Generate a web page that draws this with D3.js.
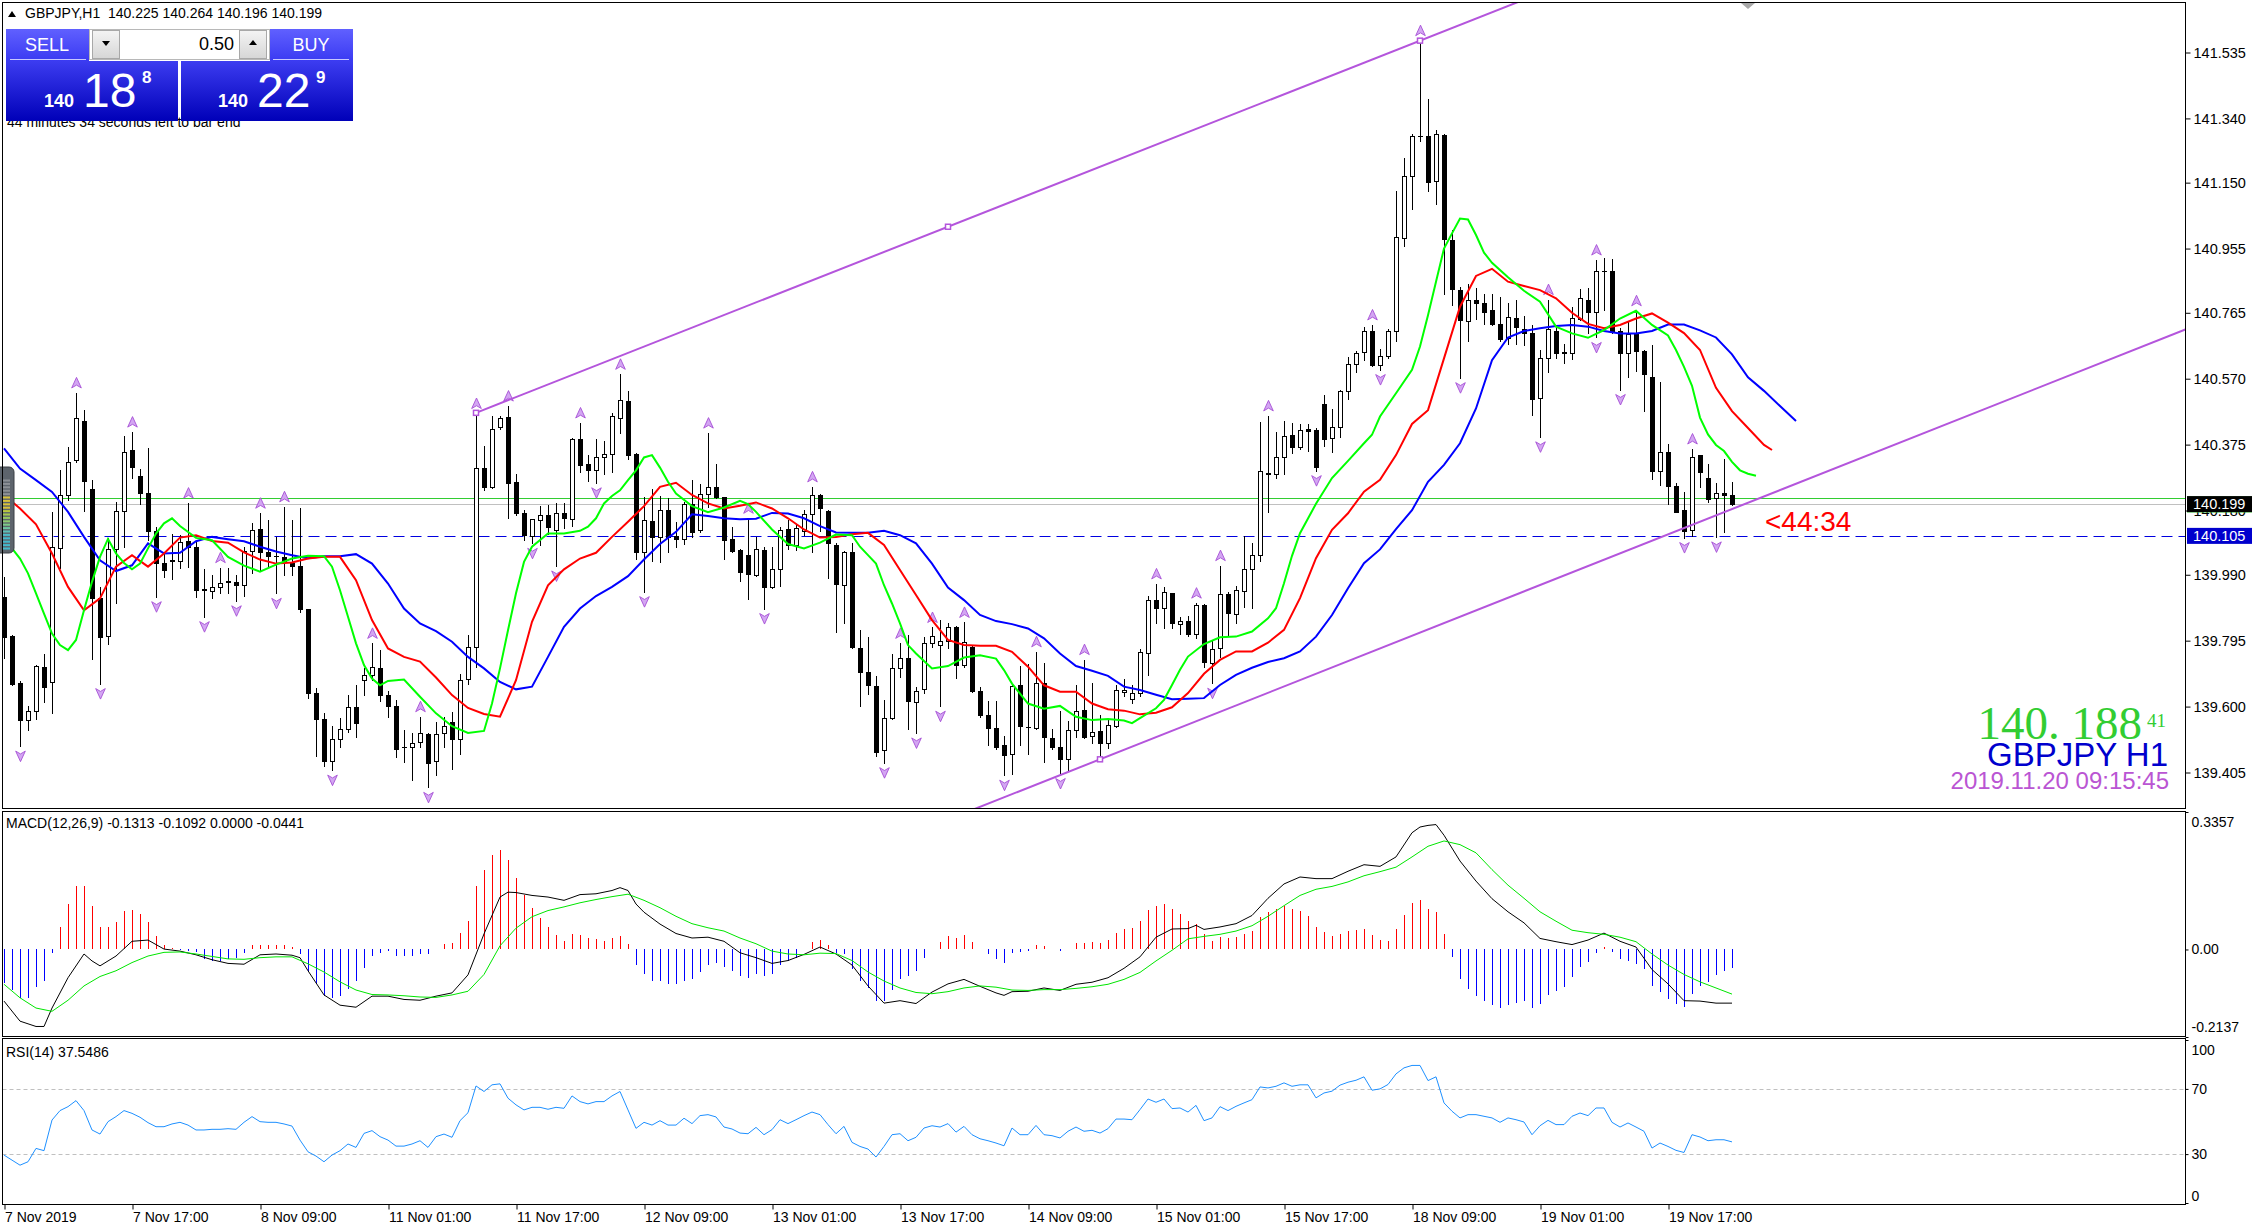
<!DOCTYPE html>
<html>
<head>
<meta charset="utf-8">
<script src="https://cdnjs.cloudflare.com/ajax/libs/d3/7.8.5/d3.min.js"></script>
<style>
body { margin: 0; background: #fff; }
text { font-family: "Liberation Sans", Arial, sans-serif; }
</style>
</head>
<body>
<div id="chart"></div>
<script>
// ---- data ----
const timeLabels = ["7 Nov 2019","7 Nov 17:00","8 Nov 09:00","11 Nov 01:00","11 Nov 17:00","12 Nov 09:00","13 Nov 01:00",
  "13 Nov 17:00","14 Nov 09:00","15 Nov 01:00","15 Nov 17:00","18 Nov 09:00","19 Nov 01:00","19 Nov 17:00"];
const timeTickBars = [0,16,32,48,64,80,96,112,128,144,160,176,192,208];
const priceTicks = [141.535,141.340,141.150,140.955,140.765,140.570,140.375,140.180,139.990,139.795,139.600,139.405];

const opens = [
139.925,139.808,139.670,139.560,139.587,139.716,139.674,140.068,140.225,140.328,
140.444,140.245,139.922,139.810,140.066,140.180,140.359,140.282,140.233,140.119,
140.024,140.031,140.032,140.089,140.072,139.947,139.943,139.955,139.969,139.970,
139.961,140.059,140.125,140.056,140.046,140.042,140.025,140.015,139.889,139.641,
139.564,139.439,139.504,139.535,139.600,139.680,139.692,139.713,139.633,139.601,
139.479,139.479,139.494,139.520,139.438,139.522,139.553,139.504,139.682,139.775,
140.305,140.250,140.426,140.458,140.263,140.173,140.106,140.152,140.166,140.122,
140.172,140.154,140.393,140.319,140.299,140.337,140.346,140.455,140.504,140.346,
140.056,140.148,140.102,140.183,140.104,140.097,140.200,140.121,140.230,140.251,
140.219,140.097,140.063,140.047,139.990,140.063,139.954,140.006,140.125,140.077,
140.120,140.169,140.225,140.180,140.078,139.961,140.056,139.772,139.701,139.662,
139.471,139.567,139.715,139.745,139.614,139.651,139.787,139.782,139.794,139.836,
139.723,139.777,139.646,139.575,139.538,139.485,139.461,139.665,139.541,139.538,
139.670,139.506,139.479,139.446,139.532,139.590,139.513,139.528,139.492,139.543,
139.642,139.622,139.640,139.758,139.916,139.891,139.935,139.845,139.854,139.814,
139.901,139.730,139.773,139.932,139.873,139.943,140.006,140.047,140.291,140.287,
140.338,140.403,140.369,140.420,140.418,140.494,140.394,140.428,140.533,140.613,
140.648,140.711,140.612,140.638,140.711,140.985,141.169,141.289,141.288,141.156,
141.291,140.980,140.832,140.742,140.804,140.793,140.773,140.733,140.689,140.751,
140.716,140.706,140.512,140.630,140.712,140.648,140.647,140.748,140.804,140.768,
140.890,140.889,140.711,140.645,140.701,140.652,140.574,140.296,140.353,140.253,
140.181,140.121,140.343,140.277,140.218,140.231,140.225];

const highs = [
139.984,139.811,139.676,139.601,139.723,139.755,140.177,140.300,140.367,140.528,
140.477,140.270,139.954,140.100,140.204,140.399,140.412,140.302,140.366,140.132,
140.053,140.110,140.109,140.202,140.092,140.007,139.988,140.011,140.010,139.988,
140.071,140.143,140.172,140.151,140.102,140.191,140.152,140.186,139.890,139.654,
139.580,139.544,139.567,139.633,139.663,139.713,139.787,139.767,139.647,139.619,
139.530,139.522,139.570,139.521,139.555,139.570,139.585,139.695,139.813,140.467,
140.371,140.459,140.460,140.489,140.287,140.183,140.155,140.194,140.196,140.203,
140.201,140.396,140.439,140.344,140.391,140.385,140.469,140.583,140.534,140.349,
140.221,140.243,140.223,140.216,140.147,140.206,140.270,140.257,140.409,140.319,
140.221,140.132,140.066,140.157,140.102,140.073,140.073,140.132,140.152,140.137,
140.181,140.250,140.228,140.183,140.083,140.061,140.085,139.826,139.807,139.690,
139.619,139.755,139.787,139.811,139.659,139.807,139.834,139.856,139.846,139.838,
139.849,139.782,139.659,139.617,139.617,139.514,139.665,139.720,139.725,139.762,
139.728,139.535,139.587,139.557,139.665,139.739,139.669,139.575,139.563,139.664,
139.681,139.664,139.770,139.927,139.963,139.955,139.937,139.866,139.868,139.906,
139.904,139.797,140.017,139.940,139.958,140.105,140.083,140.442,140.460,140.413,
140.446,140.438,140.436,140.436,140.423,140.521,140.480,140.537,140.633,140.653,
140.724,140.729,140.659,140.716,141.126,141.224,141.293,141.570,141.397,141.305,
141.293,141.010,140.842,140.850,140.837,140.820,140.822,140.812,140.793,140.804,
140.755,140.729,140.655,140.804,140.729,140.674,140.781,140.834,140.837,140.921,
140.928,140.923,140.719,140.738,140.771,140.655,140.669,140.561,140.377,140.260,
140.235,140.362,140.344,140.318,140.262,140.331,140.264];

const lows = [
139.745,139.663,139.483,139.532,139.564,139.614,139.580,140.011,140.211,140.325,
140.179,139.742,139.668,139.785,139.905,140.071,140.275,140.198,140.092,139.925,
139.984,139.977,140.011,140.014,139.925,139.866,139.922,139.937,139.935,139.913,
139.927,139.996,140.002,140.014,139.935,139.989,139.989,139.880,139.624,139.455,
139.424,139.412,139.479,139.525,139.511,139.633,139.678,139.616,139.570,139.451,
139.437,139.384,139.481,139.361,139.399,139.481,139.414,139.461,139.668,139.716,
140.242,140.248,140.420,140.159,140.166,140.092,140.083,140.078,140.110,140.016,
140.127,140.135,140.295,140.267,140.262,140.287,140.295,140.410,140.331,140.038,
139.940,140.031,140.028,140.058,140.071,140.080,140.102,140.117,140.191,140.216,
140.038,140.056,139.972,139.917,139.986,139.890,139.952,139.956,140.065,140.063,
140.109,140.056,140.119,139.981,139.821,139.846,139.774,139.602,139.637,139.454,
139.434,139.563,139.688,139.535,139.522,139.639,139.775,139.601,139.772,139.686,
139.718,139.644,139.570,139.486,139.474,139.397,139.402,139.486,139.461,139.535,
139.437,139.476,139.402,139.412,139.511,139.506,139.492,139.444,139.477,139.541,
139.630,139.610,139.630,139.694,139.847,139.832,139.832,139.815,139.809,139.802,
139.718,139.669,139.748,139.812,139.847,139.896,139.891,140.032,140.175,140.275,
140.288,140.349,140.361,140.357,140.298,140.372,140.352,140.397,140.511,140.591,
140.625,140.608,140.597,140.632,140.682,140.962,141.072,141.274,141.126,141.087,
140.822,140.788,140.573,140.682,140.748,140.731,140.728,140.682,140.674,140.674,
140.669,140.464,140.398,140.590,140.632,140.615,140.627,140.743,140.704,140.692,
140.773,140.704,140.538,140.576,140.592,140.475,140.272,140.256,140.200,140.175,
140.100,140.106,140.250,140.206,140.102,140.115,140.196];

const closes = [
139.806,139.668,139.560,139.587,139.720,139.659,140.071,140.225,140.324,140.455,
140.268,139.922,139.806,140.066,140.180,140.352,140.309,140.232,140.120,140.025,
140.004,140.035,140.086,140.073,139.946,139.945,139.955,139.967,139.971,139.960,
140.059,140.121,140.056,140.046,140.044,140.028,140.017,139.889,139.641,139.564,
139.440,139.504,139.535,139.600,139.552,139.692,139.718,139.633,139.601,139.476,
139.481,139.493,139.523,139.432,139.520,139.543,139.505,139.679,139.775,140.307,
140.250,140.420,140.455,140.262,140.173,140.108,140.154,140.166,140.130,140.172,
140.157,140.393,140.314,140.300,140.337,140.348,140.459,140.508,140.344,140.056,
140.151,140.102,140.183,140.102,140.097,140.200,140.117,140.229,140.251,140.219,
140.094,140.061,139.999,139.991,140.066,139.954,140.008,140.121,140.079,140.127,
140.171,140.226,140.188,140.083,139.964,140.056,139.775,139.703,139.663,139.466,
139.567,139.715,139.745,139.616,139.647,139.787,139.810,139.795,139.834,139.723,
139.792,139.646,139.576,139.538,139.481,139.458,139.661,139.543,139.539,139.671,
139.511,139.479,139.444,139.530,139.587,139.511,139.526,139.492,139.546,139.649,
139.649,139.640,139.761,139.916,139.891,139.938,139.847,139.854,139.814,139.901,
139.733,139.770,139.932,139.876,139.945,140.006,140.048,140.296,140.289,140.338,
140.401,140.369,140.418,140.415,140.310,140.391,140.428,140.535,140.613,140.647,
140.711,140.612,140.637,140.711,140.988,141.169,141.288,141.287,141.153,141.293,
140.982,140.834,140.745,140.804,140.793,140.768,140.733,140.686,140.753,140.724,
140.704,140.510,140.630,140.717,140.645,140.646,140.751,140.810,140.766,140.889,
140.888,140.712,140.645,140.701,140.652,140.584,140.296,140.353,140.253,140.177,
140.119,140.339,140.293,140.215,140.231,140.226,140.199];

// Alligator lines (blue jaw, red teeth, green lips), sampled at bar positions incl. forward shift
const jawBars = [0,2,4,6,8,10,12,14,16,18,20,22,24,26,28,30,32,34,36,38,40,42,44,46,48,50,52,54,56,58,60,62,64,66,68,70,
  72,74,76,78,80,82,84,86,88,90,92,94,96,98,100,102,104,106,108,110,112,114,116,118,120,122,124,126,128,130,132,134,136,
  138,140,142,144,146,148,150,152,154,156,158,160,162,164,166,168,170,172,174,176,178,180,182,184,186,188,190,192,194,196,
  198,200,202,204,206,208,210,212,214,216,218,220,222,224];
const jawVals = [140.364,140.304,140.270,140.235,140.176,140.102,140.033,140.001,140.018,140.083,140.053,140.055,140.089,
  140.102,140.095,140.089,140.073,140.059,140.048,140.039,140.045,140.045,140.051,140.023,139.964,139.890,139.846,139.823,
  139.792,139.747,139.713,139.673,139.651,139.659,139.747,139.836,139.890,139.927,139.954,139.986,140.035,140.081,140.117,
  140.169,140.164,140.157,140.154,140.156,140.173,140.171,140.157,140.134,140.115,140.114,140.114,140.120,140.107,140.083,
  140.023,139.952,139.915,139.871,139.853,139.844,139.831,139.802,139.757,139.720,139.706,139.691,139.659,139.649,139.635,
  139.622,139.623,139.625,139.664,139.694,139.715,139.732,139.743,139.763,139.807,139.871,139.950,140.024,140.065,140.125,
  140.181,140.265,140.315,140.379,140.482,140.625,140.692,140.711,140.719,140.726,140.729,140.724,140.711,140.704,140.704,
  140.711,140.730,140.730,140.713,140.692,140.642,140.574,140.534,140.489,140.445];

const teethBars = [0,2,4,6,8,10,12,14,16,18,20,22,24,26,28,30,32,34,36,38,40,42,44,46,48,50,52,54,56,58,60,62,64,66,68,70,
  72,74,76,78,80,82,84,86,88,90,92,94,96,98,100,102,104,106,108,110,112,114,116,118,120,122,124,126,128,130,132,134,136,
  138,140,142,144,146,148,150,152,154,156,158,160,162,164,166,168,170,172,174,176,178,180,182,184,186,188,190,192,194,196,
  198,200,202,204,206,208,210,212,214,216,218,220,221];
const teethVals = [140.226,140.186,140.139,140.053,139.954,139.885,139.920,140.014,140.048,140.014,140.053,140.100,140.107,
  140.090,140.085,140.056,140.035,140.023,140.026,140.038,140.043,140.043,139.974,139.856,139.772,139.747,139.733,139.686,
  139.634,139.596,139.578,139.570,139.678,139.851,139.959,140.006,140.038,140.055,140.102,140.147,140.193,140.250,140.262,
  140.226,140.201,140.186,140.194,140.204,140.186,140.157,140.124,140.100,140.102,140.110,140.114,140.078,140.004,139.930,
  139.856,139.797,139.782,139.780,139.780,139.762,139.718,139.663,139.644,139.644,139.609,139.592,139.588,139.577,139.582,
  139.598,139.640,139.697,139.738,139.763,139.763,139.789,139.827,139.921,140.039,140.123,140.172,140.236,140.271,140.344,
  140.436,140.477,140.630,140.783,140.874,140.895,140.857,140.844,140.832,140.808,140.765,140.732,140.719,140.729,140.748,
  140.763,140.736,140.705,140.655,140.543,140.474,140.424,140.374,140.359];

const lipsBars = [0,1,2,3,4,5,6,7,8,9,10,11,12,13,14,15,16,17,18,19,20,21,22,24,26,28,30,32,34,36,38,40,41,42,43,44,45,46,47,
  48,50,52,54,56,58,60,61,62,63,64,65,66,68,70,72,73,74,75,76,77,78,79,80,81,82,83,84,86,88,90,92,93,94,96,98,100,102,104,
  106,107,108,109,110,111,112,113,114,116,118,120,122,124,125,126,128,130,132,134,136,138,140,141,142,144,145,146,147,148,
  150,152,154,156,158,159,160,161,162,164,166,168,170,171,172,174,176,177,178,179,180,181,182,183,184,185,186,188,190,192,
  194,196,198,200,202,204,206,208,209,210,211,212,213,214,215,216,217,218,219];
const lipsVals = [140.100,140.068,140.038,139.994,139.935,139.875,139.816,139.782,139.767,139.797,139.885,139.969,140.043,
  140.096,140.053,140.025,140.006,140.023,140.068,140.112,140.142,140.157,140.134,140.099,140.092,140.043,140.017,139.999,
  140.020,140.038,140.046,140.045,140.014,139.944,139.866,139.787,139.723,139.683,139.663,139.676,139.680,139.629,139.580,
  139.542,139.522,139.528,139.609,139.713,139.826,139.935,140.028,140.073,140.112,140.112,140.120,140.132,140.157,140.201,
  140.223,140.240,140.270,140.299,140.337,140.344,140.307,140.265,140.230,140.193,140.175,140.189,140.209,140.199,140.176,
  140.124,140.081,140.068,140.085,140.109,140.107,140.073,140.048,140.023,139.959,139.905,139.846,139.782,139.757,139.713,
  139.720,139.745,139.752,139.742,139.708,139.668,139.609,139.594,139.602,139.570,139.560,139.563,139.559,139.551,139.566,
  139.595,139.620,139.664,139.709,139.748,139.785,139.805,139.807,139.822,139.861,139.891,139.965,140.046,140.113,140.200,
  140.276,140.327,140.379,140.404,140.458,140.527,140.596,140.665,140.758,140.857,140.955,141.000,141.044,141.041,140.995,
  140.943,140.913,140.870,140.830,140.798,140.724,140.704,140.691,140.714,140.748,140.771,140.729,140.698,140.655,140.605,
  140.549,140.455,140.405,140.374,140.356,140.324,140.299,140.289,140.283];

const fractalUp = [9,16,23,27,32,35,46,52,59,63,72,77,88,93,101,112,116,120,129,135,144,149,152,158,171,177,193,199,204,211];
const fractalDown = [2,12,19,25,29,34,41,53,66,69,74,80,95,110,114,117,125,132,151,164,172,182,192,199,202,210,214];

// trend lines: two anchor bars and prices each
const upperLineBars = [59,177];
const upperLinePrices = [140.469,141.570];
const lowerLineBars = [137,172];
const lowerLinePrices = [139.444,139.772];

// price lines
const askPrice = 140.218, bidPrice = 140.199, markPrice = 140.105;

// MACD histogram per bar
const macdHist = [
-0.081,-0.100,-0.118,-0.118,-0.092,-0.077,-0.009,0.056,0.110,0.156,
0.156,0.105,0.054,0.054,0.066,0.093,0.097,0.087,0.066,0.034,
0.011,0.004,-0.002,-0.003,-0.007,-0.024,-0.029,-0.029,-0.024,-0.022,
-0.009,0.010,0.011,0.011,0.011,0.010,0.007,-0.011,-0.052,-0.084,
-0.114,-0.118,-0.114,-0.097,-0.077,-0.044,-0.017,-0.009,-0.003,-0.016,
-0.017,-0.016,-0.010,-0.011,0.002,0.013,0.017,0.040,0.070,0.154,
0.193,0.230,0.244,0.218,0.175,0.132,0.102,0.077,0.054,0.036,
0.021,0.038,0.036,0.028,0.025,0.020,0.028,0.034,0.013,-0.038,
-0.059,-0.077,-0.077,-0.085,-0.085,-0.077,-0.072,-0.054,-0.038,-0.033,
-0.042,-0.053,-0.065,-0.069,-0.061,-0.065,-0.061,-0.038,-0.028,-0.020,
0.002,0.018,0.023,0.011,-0.008,-0.012,-0.047,-0.077,-0.095,-0.126,
-0.126,-0.099,-0.073,-0.065,-0.053,-0.020,0.002,0.018,0.033,0.028,
0.035,0.018,0.002,-0.011,-0.023,-0.033,-0.008,-0.006,-0.004,0.012,
0.008,0.002,-0.004,0.002,0.015,0.015,0.018,0.015,0.023,0.040,
0.050,0.053,0.069,0.096,0.106,0.111,0.099,0.087,0.069,0.063,
0.037,0.020,0.030,0.028,0.030,0.038,0.045,0.079,0.092,0.100,
0.107,0.098,0.094,0.081,0.055,0.042,0.033,0.037,0.045,0.047,
0.051,0.035,0.023,0.020,0.050,0.084,0.113,0.120,0.098,0.091,
0.037,-0.018,-0.072,-0.096,-0.114,-0.126,-0.136,-0.142,-0.136,-0.131,
-0.126,-0.142,-0.133,-0.112,-0.102,-0.091,-0.067,-0.042,-0.030,-0.008,
0.006,-0.007,-0.024,-0.028,-0.035,-0.047,-0.090,-0.103,-0.120,-0.133,
-0.140,-0.108,-0.088,-0.079,-0.063,-0.053,-0.044];

const macdMainBars = [0,2,4,5,6,8,10,11,12,14,16,18,20,22,24,26,28,30,32,34,36,37,38,40,42,44,46,48,50,52,54,56,58,60,62,63,
  64,66,68,70,72,74,76,77,78,79,80,82,84,86,88,90,92,94,96,98,100,102,104,106,108,110,112,114,116,118,120,122,124,125,126,
  128,130,132,134,136,138,140,142,144,146,148,149,150,152,154,156,158,160,162,164,166,168,170,172,174,176,177,178,179,180,
  182,184,186,188,190,192,194,196,198,200,202,204,206,208,210,212,214,216];
const macdMainVals = [-0.126,-0.175,-0.188,-0.188,-0.143,-0.069,-0.011,-0.028,-0.040,-0.016,0.020,0.023,0.001,-0.004,-0.013,
  -0.025,-0.034,-0.036,-0.013,-0.011,-0.014,-0.020,-0.052,-0.111,-0.136,-0.141,-0.114,-0.114,-0.122,-0.124,-0.114,-0.106,
  -0.062,0.038,0.128,0.140,0.139,0.132,0.128,0.120,0.134,0.136,0.144,0.151,0.144,0.111,0.091,0.062,0.039,0.028,0.030,0.020,
  -0.008,-0.020,-0.034,-0.027,-0.012,0.006,-0.011,-0.038,-0.089,-0.131,-0.125,-0.132,-0.104,-0.084,-0.073,-0.090,-0.106,
  -0.112,-0.103,-0.102,-0.094,-0.100,-0.085,-0.080,-0.069,-0.046,-0.018,0.030,0.050,0.051,0.059,0.049,0.055,0.063,0.083,
  0.125,0.160,0.177,0.173,0.173,0.191,0.207,0.203,0.226,0.285,0.299,0.303,0.305,0.279,0.216,0.167,0.124,0.092,0.065,0.027,
  0.019,0.012,0.023,0.040,0.020,0.006,-0.049,-0.084,-0.125,-0.126,-0.131,-0.131];

const signalBars = [0,2,4,6,8,10,12,14,16,18,20,22,24,26,28,30,32,34,36,38,40,42,44,46,48,50,52,54,56,58,60,62,64,66,68,70,
  72,74,76,78,80,82,84,86,88,90,92,94,96,98,100,102,104,106,108,110,112,114,116,118,120,122,124,126,128,130,132,134,136,
  138,140,142,144,146,148,150,152,154,156,158,160,162,164,166,168,170,172,174,176,178,180,182,184,186,188,190,192,194,196,
  198,200,202,204,206,208,210,212,214,216];
const signalVals = [-0.085,-0.118,-0.143,-0.151,-0.124,-0.089,-0.066,-0.052,-0.032,-0.016,-0.007,-0.006,-0.011,-0.017,-0.023,
  -0.024,-0.020,-0.018,-0.018,-0.035,-0.055,-0.079,-0.099,-0.110,-0.111,-0.113,-0.116,-0.117,-0.111,-0.102,-0.061,0.009,
  0.052,0.080,0.095,0.104,0.114,0.122,0.129,0.135,0.120,0.102,0.081,0.063,0.053,0.045,0.028,0.014,-0.004,-0.011,-0.013,
  -0.009,-0.010,-0.027,-0.055,-0.077,-0.094,-0.105,-0.108,-0.103,-0.094,-0.089,-0.092,-0.099,-0.100,-0.098,-0.098,-0.095,
  -0.091,-0.085,-0.073,-0.056,-0.028,-0.002,0.026,0.032,0.037,0.045,0.058,0.081,0.107,0.132,0.147,0.154,0.165,0.180,0.190,
  0.201,0.226,0.252,0.265,0.256,0.236,0.195,0.157,0.125,0.092,0.069,0.047,0.041,0.037,0.030,0.019,-0.011,-0.038,-0.061,
  -0.079,-0.094,-0.109];

const rsiVals = [
29.4,26.3,23.2,25.3,33.5,32.1,50.9,56.7,59.1,62.8,
56.7,44.8,42.3,49.9,53.0,56.7,55.0,52.6,49.3,46.8,
46.8,48.5,49.5,47.8,44.8,44.8,45.2,45.2,45.6,45.2,
49.5,53.0,49.9,49.5,49.5,48.5,47.2,38.6,31.4,28.8,
25.3,29.4,32.1,36.2,34.1,42.7,44.4,40.7,38.6,34.9,
34.9,36.2,38.2,34.1,40.7,42.3,40.3,50.5,55.4,71.8,
68.4,72.5,73.1,64.3,60.2,57.1,58.7,58.7,57.5,58.7,
58.1,65.7,62.2,60.8,62.2,62.2,65.7,68.4,57.1,45.8,
49.5,47.8,50.5,47.8,47.8,52.0,48.7,53.6,54.2,52.8,
46.6,45.4,42.9,42.5,46.4,41.9,45.0,51.1,48.7,51.1,
53.6,55.8,54.2,48.1,42.5,47.0,37.2,34.7,33.1,28.2,
34.7,41.9,42.5,38.2,40.3,46.0,47.4,46.6,48.7,43.5,
47.0,41.9,39.4,38.2,36.8,35.1,46.0,41.9,41.9,47.6,
41.9,41.3,39.9,44.0,46.6,44.0,44.6,42.9,45.6,51.5,
51.5,51.1,57.3,63.8,61.8,63.8,57.9,58.3,55.8,59.9,
50.5,52.2,59.1,56.7,59.3,61.4,63.4,71.2,70.6,71.6,
73.7,71.6,72.5,72.5,64.5,67.5,68.6,72.3,74.1,75.3,
77.4,69.2,70.0,72.7,79.2,82.9,84.4,84.4,75.1,77.4,
61.4,56.3,52.2,54.2,54.2,53.2,52.2,49.5,52.2,51.1,
49.7,41.9,47.4,50.7,48.1,48.1,53.2,55.2,53.6,58.3,
58.3,49.5,46.6,49.1,46.6,44.0,33.7,36.8,34.7,32.3,
31.0,41.9,40.5,38.2,38.8,38.8,37.5];

// ---- layout ----
let svgWidth = 2252, svgHeight = 1231;
let plotLeft = 2.5, plotRight = 2185.5;
let mainTop = 2.5, mainBottom = 808.5;
let macdTop = 811.5, macdBottom = 1036.5;
let rsiTop = 1038.5, rsiBottom = 1204.5;
let fontAxis = 14;

let x = d3.scaleLinear().domain([0, 216]).range([4, 1732]);
let yPrice = d3.scaleLinear().domain([139.405, 141.535]).range([772.5, 52.5]);
let yMacd = d3.scaleLinear().domain([-0.2137, 0.3357]).range([1037, 812]);
let yRsi = d3.scaleLinear().domain([0, 100]).range([1203, 1040]);

let svg = d3.select("#chart").append("svg")
  .attr("width", svgWidth).attr("height", svgHeight)
  .style("display", "block");
svg.append("rect").attr("width", svgWidth).attr("height", svgHeight).attr("fill", "#fff");

let defs = svg.append("defs");
function addClip(id, y0, y1) {
  defs.append("clipPath").attr("id", id).append("rect")
    .attr("x", plotLeft + 0.5).attr("y", y0 + 0.5)
    .attr("width", plotRight - plotLeft - 1).attr("height", y1 - y0 - 1);
}
addClip("clipMain", mainTop, mainBottom);
addClip("clipMacd", macdTop, macdBottom);
addClip("clipRsi", rsiTop, rsiBottom);

let gSell = defs.append("linearGradient").attr("id", "btnGrad").attr("x1", 0).attr("y1", 0).attr("x2", 0).attr("y2", 1);
gSell.append("stop").attr("offset", "0%").attr("stop-color", "#6060ff");
gSell.append("stop").attr("offset", "100%").attr("stop-color", "#3a3af2");
let gPrice = defs.append("linearGradient").attr("id", "priceGrad").attr("x1", 0).attr("y1", 0).attr("x2", 0).attr("y2", 1);
gPrice.append("stop").attr("offset", "0%").attr("stop-color", "#3c3cf0");
gPrice.append("stop").attr("offset", "100%").attr("stop-color", "#0000b8");
let gLot = defs.append("linearGradient").attr("id", "lotGrad").attr("x1", 0).attr("y1", 0).attr("x2", 0).attr("y2", 1);
gLot.append("stop").attr("offset", "0%").attr("stop-color", "#f4f4f4");
gLot.append("stop").attr("offset", "100%").attr("stop-color", "#d6d6d6");

// ---- main pane ----
let main = svg.append("g").attr("clip-path", "url(#clipMain)");

// horizontal price lines
main.append("line").attr("x1", plotLeft).attr("x2", plotRight)
  .attr("y1", Math.round(yPrice(askPrice)) + 0.5).attr("y2", Math.round(yPrice(askPrice)) + 0.5)
  .attr("stroke", "#32cd32").attr("stroke-width", 1);
main.append("line").attr("x1", plotLeft).attr("x2", plotRight)
  .attr("y1", Math.round(yPrice(bidPrice)) + 0.5).attr("y2", Math.round(yPrice(bidPrice)) + 0.5)
  .attr("stroke", "#c0c0c0").attr("stroke-width", 1);
main.append("line").attr("x1", plotLeft).attr("x2", plotRight)
  .attr("y1", Math.round(yPrice(markPrice)) + 0.5).attr("y2", Math.round(yPrice(markPrice)) + 0.5)
  .attr("stroke", "#0000e0").attr("stroke-width", 1).attr("stroke-dasharray", "11,6");

// candles
let idx = d3.range(opens.length);
let candleG = main.append("g").attr("shape-rendering", "crispEdges");
candleG.selectAll("line.wick").data(idx).enter().append("line")
  .attr("class", "wick")
  .attr("x1", i => x(i) + 0.5).attr("x2", i => x(i) + 0.5)
  .attr("y1", i => Math.round(yPrice(highs[i]))).attr("y2", i => Math.round(yPrice(lows[i])) + 1)
  .attr("stroke", "#000");
candleG.selectAll("rect.body").data(idx).enter().append("rect")
  .attr("class", "body")
  .attr("x", i => x(i) - 1.5)
  .attr("width", 4)
  .attr("y", i => Math.round(yPrice(Math.max(opens[i], closes[i]))) + 0.5)
  .attr("height", i => Math.max(0.01, Math.round(yPrice(Math.min(opens[i], closes[i]))) - Math.round(yPrice(Math.max(opens[i], closes[i])))))
  .attr("fill", i => closes[i] >= opens[i] ? "#fff" : "#000")
  .attr("stroke", "#000").attr("stroke-width", 1);

// fractal arrows
let upArrow = "M0,-5.5 L4.8,5 L0,2.2 L-4.8,5 Z";
let downArrow = "M0,5.5 L4.8,-5 L0,-2.2 L-4.8,-5 Z";
main.append("g").selectAll("path").data(fractalUp).enter().append("path")
  .attr("d", upArrow)
  .attr("transform", i => `translate(${x(i) + 0.5},${yPrice(highs[i]) - 10})`)
  .attr("fill", "#d3a6f2").attr("stroke", "#a64fd6").attr("stroke-width", 0.9);
main.append("g").selectAll("path").data(fractalDown).enter().append("path")
  .attr("d", downArrow)
  .attr("transform", i => `translate(${x(i) + 0.5},${yPrice(lows[i]) + 10})`)
  .attr("fill", "#d3a6f2").attr("stroke", "#a64fd6").attr("stroke-width", 0.9);

// alligator lines
let priceLine = d3.line().x(d => x(d[0])).y(d => yPrice(d[1]));
main.append("path").datum(d3.zip(jawBars, jawVals)).attr("d", priceLine)
  .attr("fill", "none").attr("stroke", "#0000ff").attr("stroke-width", 2);
main.append("path").datum(d3.zip(teethBars, teethVals)).attr("d", priceLine)
  .attr("fill", "none").attr("stroke", "#ff0000").attr("stroke-width", 2);
main.append("path").datum(d3.zip(lipsBars, lipsVals)).attr("d", priceLine)
  .attr("fill", "none").attr("stroke", "#00ff00").attr("stroke-width", 2);

// trend lines (extended as rays)
function extend(bars, prices, b) {
  let slope = (prices[1] - prices[0]) / (bars[1] - bars[0]);
  return prices[0] + slope * (b - bars[0]);
}
let trendColor = "#b455dc";
main.append("line")
  .attr("x1", x(upperLineBars[0])).attr("y1", yPrice(upperLinePrices[0]))
  .attr("x2", x(260)).attr("y2", yPrice(extend(upperLineBars, upperLinePrices, 260)))
  .attr("stroke", trendColor).attr("stroke-width", 2);
main.append("line")
  .attr("x1", x(100)).attr("y1", yPrice(extend(lowerLineBars, lowerLinePrices, 100)))
  .attr("x2", x(290)).attr("y2", yPrice(extend(lowerLineBars, lowerLinePrices, 290)))
  .attr("stroke", trendColor).attr("stroke-width", 2);
let midBar = (upperLineBars[0] + upperLineBars[1]) / 2;
let anchorPts = [
  [upperLineBars[0], upperLinePrices[0]],
  [midBar, extend(upperLineBars, upperLinePrices, midBar)],
  [upperLineBars[1], upperLinePrices[1]],
  [lowerLineBars[0], lowerLinePrices[0]]
];
main.append("g").selectAll("rect").data(anchorPts).enter().append("rect")
  .attr("x", d => x(d[0]) - 2.5).attr("y", d => yPrice(d[1]) - 2.5)
  .attr("width", 5).attr("height", 5)
  .attr("fill", "#fff").attr("stroke", trendColor).attr("stroke-width", 1.5);

// bar timer
main.append("text").attr("x", 1765).attr("y", 531)
  .attr("font-size", 28).attr("fill", "#ff0000").text("<44:34");

// big price info bottom-right
main.append("text").attr("x", 2142).attr("y", 739).attr("text-anchor", "end")
  .style("font-family", "'Liberation Serif','Times New Roman',serif")
  .attr("font-size", 47).attr("fill", "#32cd32").style("white-space", "pre").text("140. 188");
main.append("text").attr("x", 2147).attr("y", 727)
  .style("font-family", "'Liberation Serif','Times New Roman',serif")
  .attr("font-size", 19).attr("fill", "#32cd32").text("41");
main.append("text").attr("x", 2168).attr("y", 766).attr("text-anchor", "end")
  .attr("font-size", 33).attr("fill", "#0000cd").text("GBPJPY H1");
main.append("text").attr("x", 2169).attr("y", 789).attr("text-anchor", "end")
  .attr("font-size", 24).attr("fill", "#ba55d3").text("2019.11.20 09:15:45");

// chart shift marker
svg.append("path").attr("d", "M1741,3 L1755,3 L1748,9 Z").attr("fill", "#a8a8a8");

// header
svg.append("path").attr("d", "M8,17 L12,11 L16,17 Z").attr("fill", "#000");
svg.append("text").attr("x", 25).attr("y", 18).attr("font-size", fontAxis)
  .style("white-space", "pre").text("GBPJPY,H1  140.225 140.264 140.196 140.199");
svg.append("text").attr("x", 7).attr("y", 127).attr("font-size", fontAxis)
  .text("44 minutes 34 seconds left to bar end");

// one click trading panel
let panel = svg.append("g");
panel.append("rect").attr("x", 6).attr("y", 29).attr("width", 83).attr("height", 32).attr("fill", "url(#btnGrad)");
panel.append("rect").attr("x", 270).attr("y", 29).attr("width", 83).attr("height", 32).attr("fill", "url(#btnGrad)");
panel.append("rect").attr("x", 89.5).attr("y", 29.5).attr("width", 180).attr("height", 30).attr("fill", "#fff").attr("stroke", "#b8b8b8");
panel.append("rect").attr("x", 92.5).attr("y", 30.5).attr("width", 27).attr("height", 28).attr("fill", "url(#lotGrad)").attr("stroke", "#a8a8a8");
panel.append("rect").attr("x", 239.5).attr("y", 30.5).attr("width", 27).attr("height", 28).attr("fill", "url(#lotGrad)").attr("stroke", "#a8a8a8");
panel.append("path").attr("d", "M102,41 L110,41 L106,46 Z").attr("fill", "#000");
panel.append("path").attr("d", "M249,45 L257,45 L253,40 Z").attr("fill", "#000");
panel.append("text").attr("x", 234).attr("y", 50).attr("text-anchor", "end").attr("font-size", 18).text("0.50");
panel.append("text").attr("x", 47).attr("y", 51).attr("text-anchor", "middle").attr("font-size", 18).attr("fill", "#fff").text("SELL");
panel.append("text").attr("x", 311).attr("y", 51).attr("text-anchor", "middle").attr("font-size", 18).attr("fill", "#fff").text("BUY");
panel.append("line").attr("x1", 10).attr("x2", 86).attr("y1", 59.5).attr("y2", 59.5).attr("stroke", "#c8c8ff");
panel.append("line").attr("x1", 273).attr("x2", 349).attr("y1", 59.5).attr("y2", 59.5).attr("stroke", "#c8c8ff");
panel.append("rect").attr("x", 6).attr("y", 61).attr("width", 172).attr("height", 60).attr("fill", "url(#priceGrad)");
panel.append("rect").attr("x", 181).attr("y", 61).attr("width", 172).attr("height", 60).attr("fill", "url(#priceGrad)");
function quote(x0, big, small) {
  panel.append("text").attr("x", x0).attr("y", 107).attr("font-size", 18).attr("font-weight", "bold").attr("fill", "#fff").text("140");
  panel.append("text").attr("x", x0 + 39).attr("y", 107).attr("font-size", 48).attr("fill", "#fff").text(big);
  panel.append("text").attr("x", x0 + 98).attr("y", 83).attr("font-size", 17).attr("font-weight", "bold").attr("fill", "#fff").text(small);
}
quote(44, "18", "8");
quote(218, "22", "9");

// side widget on the left edge
let widget = svg.append("g");
widget.append("rect").attr("x", -6).attr("y", 467).attr("width", 20).attr("height", 86).attr("rx", 5)
  .attr("fill", "#5d646c").attr("stroke", "#3a3f44");
let meterColors = ["#8c9096","#8c9096","#8c9096","#8c9096","#8c9096","#d9c23a","#d9c23a","#d9c23a","#d9c23a",
  "#b9c83e","#a6c850","#96c860","#8cc870","#7cc888","#6cc4a0","#5cc0b8","#4cbcc8","#44b8cc","#44b8cc","#44b8cc","#44b8cc"];
widget.selectAll("line").data(meterColors).enter().append("line")
  .attr("x1", 2).attr("x2", 10)
  .attr("y1", (d, i) => 480.5 + i * 3.4).attr("y2", (d, i) => 480.5 + i * 3.4)
  .attr("stroke", d => d).attr("stroke-width", 2);

// price axis
let priceAxis = d3.axisRight(yPrice).tickValues(priceTicks).tickFormat(d3.format(".3f")).tickSize(5).tickPadding(3);
svg.append("g").attr("transform", `translate(${plotRight},0)`)
  .call(priceAxis)
  .call(g => g.select(".domain").remove())
  .call(g => g.selectAll("text").attr("font-size", 14.5).style("font-family", "'Liberation Sans',Arial,sans-serif").attr("fill", "#000"))
  .call(g => g.selectAll("line").attr("stroke", "#000"));

// price label boxes
function priceBox(price, fill, label) {
  let yc = yPrice(price);
  svg.append("rect").attr("x", 2187).attr("y", yc - 8).attr("width", 65).attr("height", 16).attr("fill", fill);
  svg.append("text").attr("x", 2193).attr("y", yc + 5).attr("font-size", 14.5).attr("fill", "#fff").text(label);
}
priceBox(askPrice - 0.02, "#32cd32", "140.218");
priceBox(bidPrice, "#000", "140.199");
priceBox(markPrice, "#0000cd", "140.105");

// ---- MACD pane ----
let macdG = svg.append("g").attr("clip-path", "url(#clipMacd)");
macdG.append("g").attr("shape-rendering", "crispEdges")
  .selectAll("line").data(idx).enter().append("line")
  .attr("x1", i => x(i) + 0.5).attr("x2", i => x(i) + 0.5)
  .attr("y1", yMacd(0)).attr("y2", i => yMacd(macdHist[i]))
  .attr("stroke", i => macdHist[i] >= 0 ? "#ff0000" : "#0000ff").attr("stroke-width", 1);
let macdLine = d3.line().x(d => x(d[0])).y(d => yMacd(d[1]));
macdG.append("path").datum(d3.zip(macdMainBars, macdMainVals)).attr("d", macdLine)
  .attr("fill", "none").attr("stroke", "#000").attr("stroke-width", 1);
macdG.append("path").datum(d3.zip(signalBars, signalVals)).attr("d", macdLine)
  .attr("fill", "none").attr("stroke", "#00e600").attr("stroke-width", 1);
svg.append("text").attr("x", 6).attr("y", 828).attr("font-size", fontAxis)
  .text("MACD(12,26,9) -0.1313 -0.1092 0.0000 -0.0441");

let macdAxis = d3.axisRight(yMacd).tickValues([0.3357, 0, -0.2137])
  .tickFormat(d => d === 0 ? "0.00" : d.toFixed(4)).tickSize(3).tickPadding(3);
svg.append("g").attr("transform", `translate(${plotRight},0)`)
  .call(macdAxis)
  .call(g => g.select(".domain").remove())
  .call(g => g.selectAll("text").attr("font-size", fontAxis).style("font-family", "'Liberation Sans',Arial,sans-serif").attr("fill", "#000")
    .attr("dy", d => d > 0.1 ? "1.05em" : (d < -0.1 ? "-0.36em" : "0.32em")))
  .call(g => g.selectAll("line").attr("stroke", "#000"));

// ---- RSI pane ----
let rsiG = svg.append("g").attr("clip-path", "url(#clipRsi)");
[70, 30].forEach(level => {
  rsiG.append("line").attr("x1", plotLeft).attr("x2", plotRight)
    .attr("y1", Math.round(yRsi(level)) + 0.5).attr("y2", Math.round(yRsi(level)) + 0.5)
    .attr("stroke", "#c0c0c0").attr("stroke-dasharray", "4,3");
});
rsiG.append("path").datum(idx).attr("d", d3.line().x(i => x(i)).y(i => yRsi(rsiVals[i])))
  .attr("fill", "none").attr("stroke", "#1e90ff").attr("stroke-width", 1);
svg.append("text").attr("x", 6).attr("y", 1057).attr("font-size", fontAxis).text("RSI(14) 37.5486");

let rsiAxis = d3.axisRight(yRsi).tickValues([100, 70, 30, 0]).tickFormat(d3.format("d")).tickSize(3).tickPadding(3);
svg.append("g").attr("transform", `translate(${plotRight},0)`)
  .call(rsiAxis)
  .call(g => g.select(".domain").remove())
  .call(g => g.selectAll("text").attr("font-size", fontAxis).style("font-family", "'Liberation Sans',Arial,sans-serif").attr("fill", "#000")
    .attr("dy", d => d === 100 ? "1.0em" : (d === 0 ? "-0.2em" : "0.32em")))
  .call(g => g.selectAll("line").attr("stroke", "#000"));

// ---- time axis ----
let timeAxis = d3.axisBottom(x).tickValues(timeTickBars)
  .tickFormat(b => timeLabels[timeTickBars.indexOf(b)]).tickSize(5).tickPadding(3);
svg.append("g").attr("transform", `translate(0.5,${rsiBottom})`)
  .call(timeAxis)
  .call(g => g.select(".domain").remove())
  .call(g => g.selectAll("text").attr("font-size", fontAxis).style("font-family", "'Liberation Sans',Arial,sans-serif")
    .attr("fill", "#000").attr("text-anchor", "start").attr("x", 0))
  .call(g => g.selectAll("line").attr("stroke", "#000"));

// ---- pane frames ----
[[mainTop, mainBottom], [macdTop, macdBottom], [rsiTop, rsiBottom]].forEach(p => {
  svg.append("rect").attr("x", plotLeft).attr("y", p[0])
    .attr("width", plotRight - plotLeft).attr("height", p[1] - p[0])
    .attr("fill", "none").attr("stroke", "#000").attr("stroke-width", 1);
});
</script>
</body>
</html>
